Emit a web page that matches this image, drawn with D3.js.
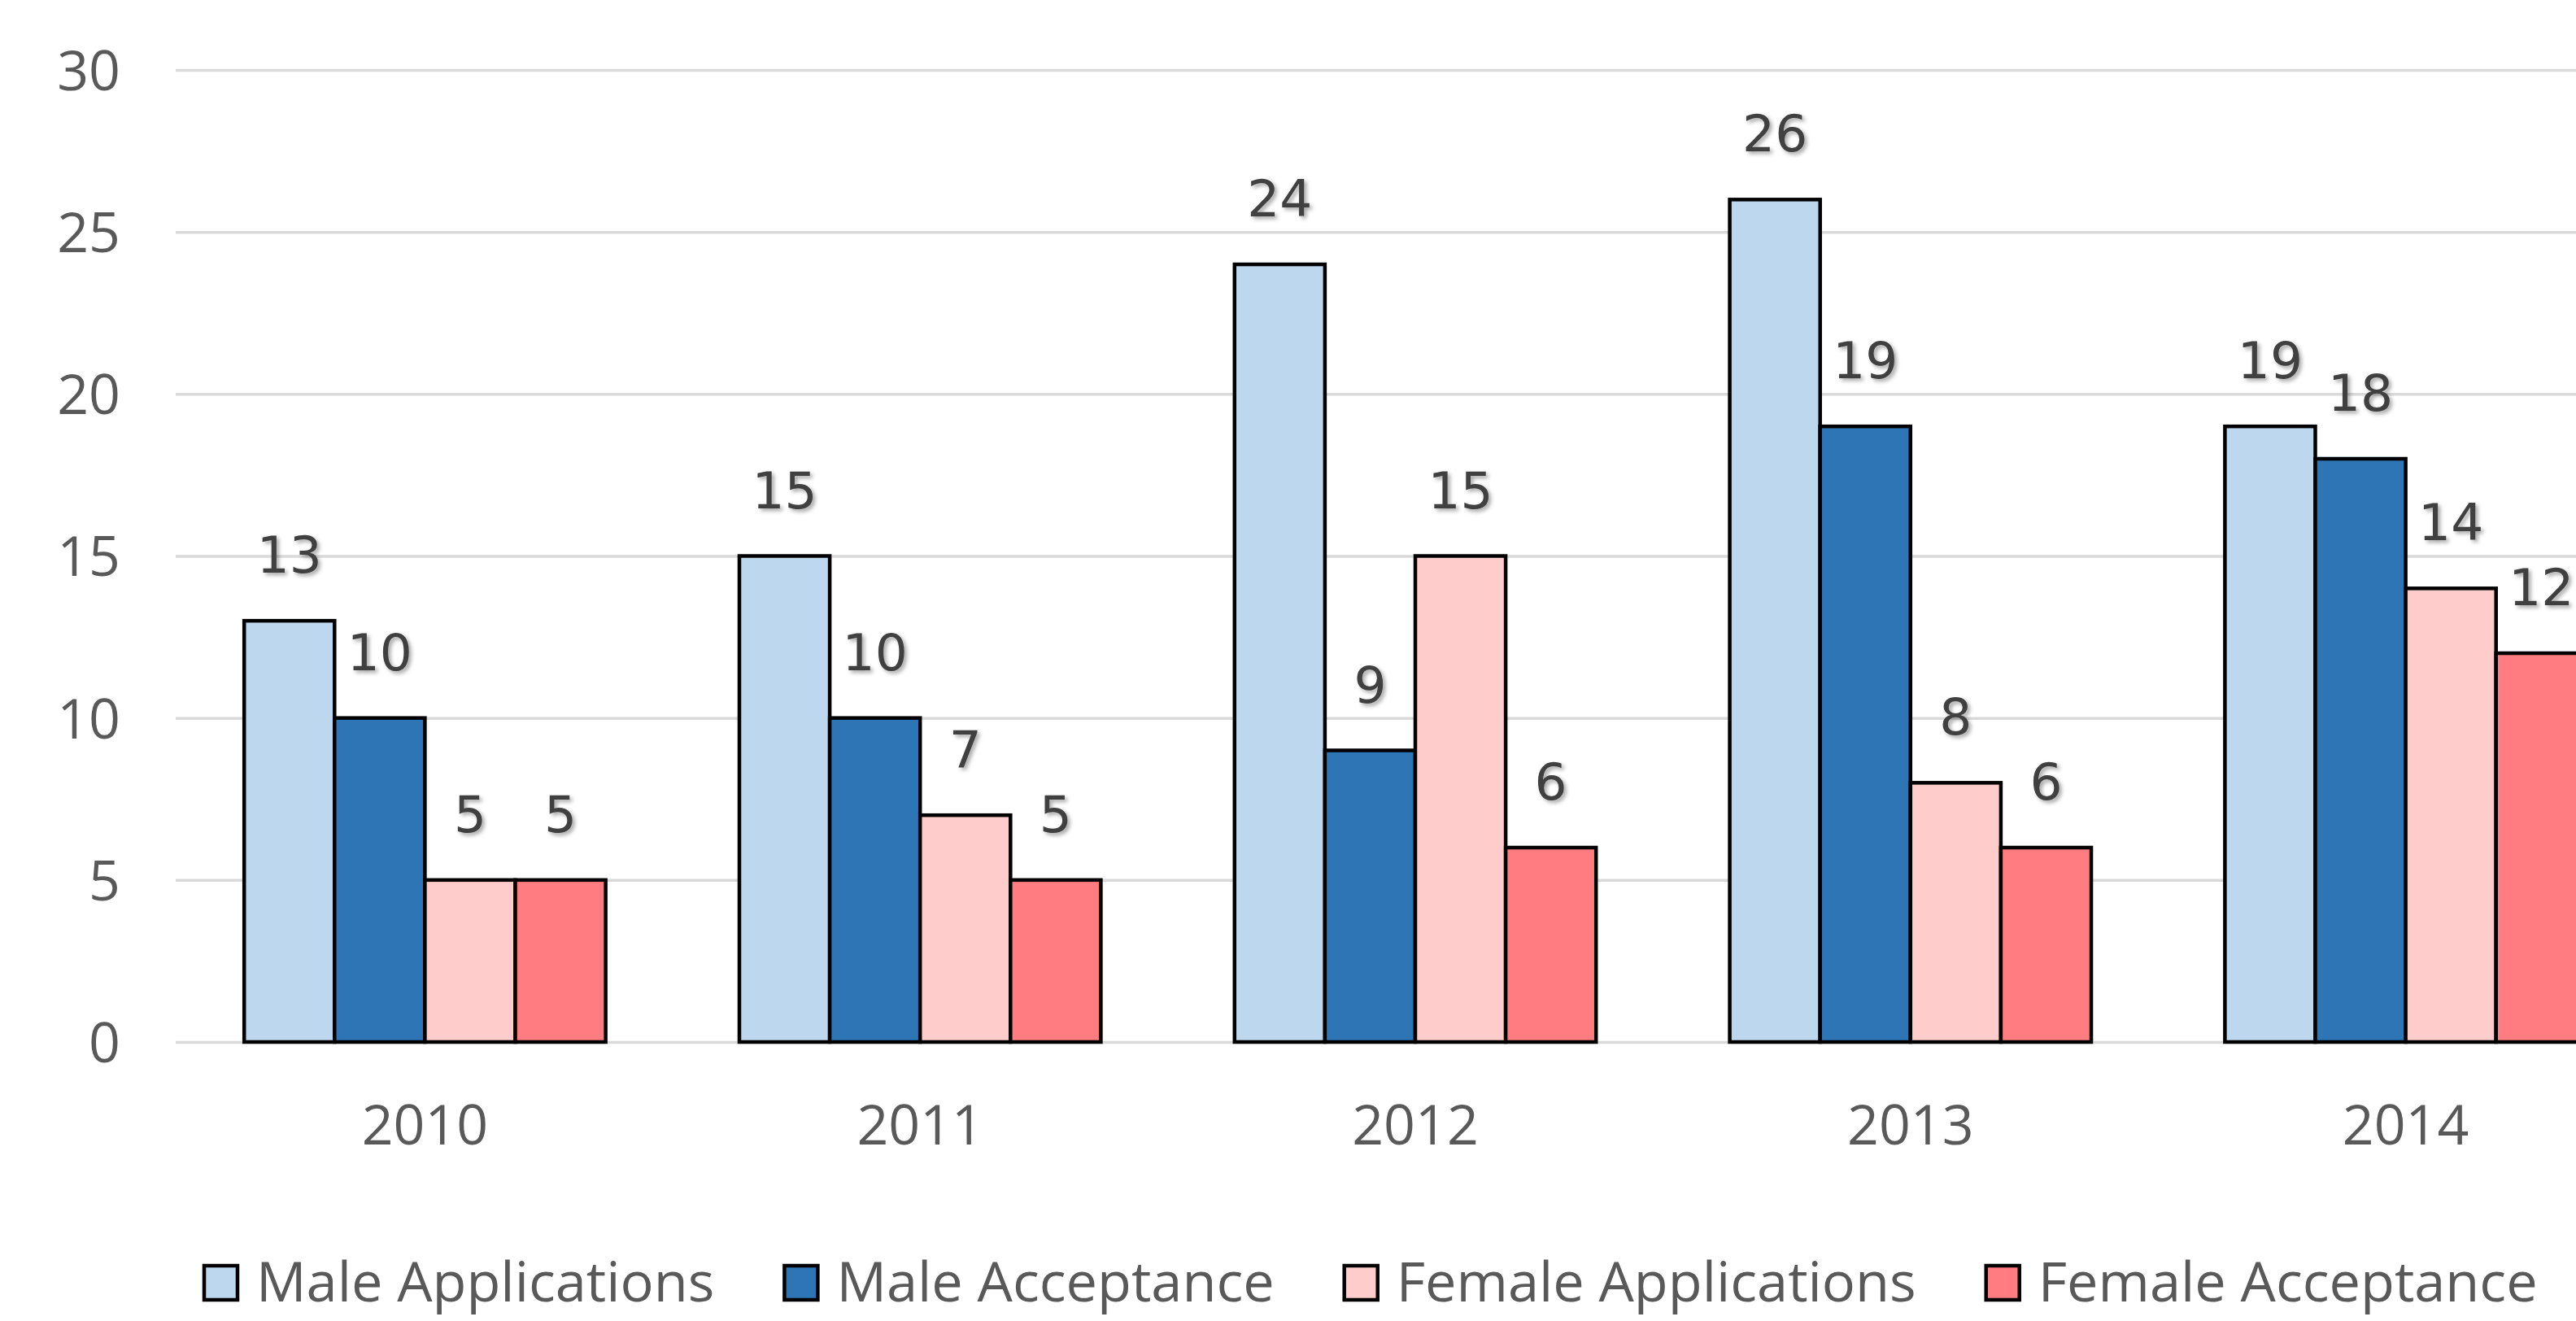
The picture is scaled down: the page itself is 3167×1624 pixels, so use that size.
<!DOCTYPE html>
<html>
<head>
<meta charset="utf-8">
<script src="https://cdn.jsdelivr.net/npm/d3@7"></script>
<style>
    body { margin: 0; background: #fff; }
    svg { display: block; }
</style>
</head>
<body>
<div id="chart"></div>
<script>
// chart data
const years = ["2010", "2011", "2012", "2013", "2014"];
const seriesNames = ["Male Applications", "Male Acceptance", "Female Applications", "Female Acceptance"];
const maleApplications = [13, 15, 24, 26, 19];
const maleAcceptance = [10, 10, 9, 19, 18];
const femaleApplications = [5, 7, 15, 8, 14];
const femaleAcceptance = [5, 5, 6, 6, 12];
const yTicks = [0, 5, 10, 15, 20, 25, 30];
const seriesColors = ["#BDD7EE", "#2E75B6", "#FFCCCC", "#FF7C80"];

const seriesValues = [maleApplications, maleAcceptance, femaleApplications, femaleAcceptance];

const size = {width: 3167, height: 1624};
// plot area runs past the right edge, like the cropped original
const plot = {left: 218, right: 3262, top: 86, bottom: 1281, gridLeft: 216};

const svg = d3.select("#chart").append("svg")
    .attr("width", size.width)
    .attr("height", size.height)
;

// soft shadow used by the value labels
const shadow = svg.append("defs").append("filter")
    .attr("id", "lblShadow")
    .attr("x", "-20%").attr("y", "-20%")
    .attr("width", "150%").attr("height", "150%")
;
shadow.append("feDropShadow")
    .attr("dx", 3).attr("dy", 3)
    .attr("stdDeviation", 2.5)
    .attr("flood-color", "#000")
    .attr("flood-opacity", 0.35)
;

const x0 = d3.scaleBand()
    .domain(years)
    .range([plot.left, plot.right])
    .paddingInner(0.27)
    .paddingOuter(0.135)
;
const x1 = d3.scaleBand()
    .domain(seriesNames)
    .range([0, x0.bandwidth()])
;
const y = d3.scaleLinear()
    .domain([0, 30])
    .range([plot.bottom, plot.top])
;

// gridlines + y labels
const yAxis = svg.append("g")
    .attr("transform", "translate(" + plot.gridLeft + ",0)")
    .call(d3.axisLeft(y).tickValues(yTicks).tickSize(-(size.width - plot.gridLeft)).tickPadding(68))
;
yAxis.select(".domain").remove();
yAxis.selectAll(".tick line")
    .attr("stroke", "#D9D9D9")
    .attr("stroke-width", 3.5)
;
yAxis.selectAll(".tick text")
    .attr("fill", "#595959")
    .attr("font-family", "'Open Sans', sans-serif")
    .attr("font-size", 68)
    .attr("dy", "0.36em")
;

// x labels
const xAxis = svg.append("g")
    .attr("transform", "translate(0," + plot.bottom + ")")
    .call(d3.axisBottom(x0).tickSize(0).tickPadding(78))
;
xAxis.select(".domain").remove();
xAxis.selectAll(".tick text")
    .attr("fill", "#595959")
    .attr("font-family", "'Open Sans', sans-serif")
    .attr("font-size", 68)
    .attr("dy", "0.71em")
;

// rows of (year, series, value)
const rows = [];
years.forEach((yr, i) => {
    seriesNames.forEach((s, j) => {
        rows.push({year: yr, series: s, value: seriesValues[j][i], color: seriesColors[j]});
    });
});

const barsG = svg.append("g");
barsG.selectAll("rect")
    .data(rows)
    .join("rect")
    .attr("x", d => x0(d.year) + x1(d.series))
    .attr("y", d => y(d.value))
    .attr("width", x1.bandwidth())
    .attr("height", d => y(0) - y(d.value))
    .attr("fill", d => d.color)
    .attr("stroke", "#000")
    .attr("stroke-width", 4.5)
;

const labelsG = svg.append("g")
    .attr("filter", "url(#lblShadow)")
;
labelsG.selectAll("text")
    .data(rows)
    .join("text")
    .attr("x", d => x0(d.year) + x1(d.series) + x1.bandwidth() / 2)
    .attr("y", d => y(d.value) - 59)
    .attr("text-anchor", "middle")
    .attr("font-family", "'DejaVu Sans', sans-serif")
    .attr("font-size", 63)
    .attr("fill", "#404040")
    .text(d => d.value)
;

// legend along the bottom (lifted a little so the descenders stay on the page)
const legendBase = 1600;
const legendG = svg.append("g");
let lx = 249;
seriesNames.forEach((name, j) => {
    const item = legendG.append("g")
        .attr("transform", "translate(" + lx + ",0)")
    ;
    item.append("rect")
        .attr("x", 2).attr("y", legendBase - 44)
        .attr("width", 41).attr("height", 42)
        .attr("fill", seriesColors[j])
        .attr("stroke", "#000")
        .attr("stroke-width", 4.5)
    ;
    const t = item.append("text")
        .attr("x", 66)
        .attr("y", legendBase)
        .attr("font-family", "'Open Sans', sans-serif")
        .attr("font-size", 68.5)
        .attr("fill", "#595959")
        .text(name)
    ;
    lx += 66 + t.node().getComputedTextLength() + 84;
});
</script>
</body>
</html>
